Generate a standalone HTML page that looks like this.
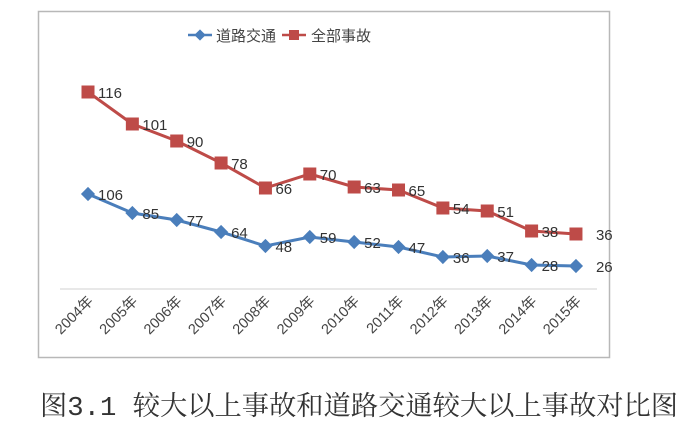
<!DOCTYPE html>
<html><head><meta charset="utf-8"><style>
body{margin:0;background:#fff;width:685px;height:435px;overflow:hidden}
svg text{font-family:"Liberation Sans","Noto Sans CJK SC",sans-serif}
</style></head><body>
<svg width="685" height="435" xmlns="http://www.w3.org/2000/svg">
<rect x="38.5" y="11.5" width="571" height="346" fill="#fff" stroke="#b8b8b8" stroke-width="1.5"/>
<line x1="60" y1="289" x2="597" y2="289" stroke="#d0d0d0" stroke-width="1"/>
<line x1="188" y1="35" x2="212" y2="35" stroke="#4a7ebb" stroke-width="2.5"/>
<rect x="196" y="31" width="8" height="8" fill="#4a7ebb" transform="rotate(45 200 35)"/>
<text x="216" y="41" font-size="15" fill="#444">道路交通</text>
<line x1="282" y1="35" x2="306" y2="35" stroke="#be4b48" stroke-width="2.5"/>
<rect x="289" y="30" width="10" height="10" fill="#be4b48"/>
<text x="311" y="41" font-size="15" fill="#444">全部事故</text>
<g id="c"></g>
<text x="40" y="415" font-size="27" fill="#333" textLength="638" lengthAdjust="spacingAndGlyphs" style='font-family:"Liberation Mono","Noto Serif CJK SC",serif'>图3.1 较大以上事故和道路交通较大以上事故对比图</text>
</svg>
<script>
var xs=[],i;for(i=0;i<12;i++)xs.push(88+i*44.36);
var R=[116,101,90,78,66,70,63,65,54,51,38,36],Ry=[92,124,141,163,188,174,187,190,208,211,231,234];
var B=[106,85,77,64,48,59,52,47,36,37,28,26],By=[194,213,220,232,246,237,242,247,257,256,265,266];
var s='';
function pl(ys,c){return '<polyline fill="none" stroke="'+c+'" stroke-width="3" points="'+xs.map(function(x,i){return x+','+ys[i]}).join(' ')+'"/>';}
s+=pl(By,'#4a7ebb')+pl(Ry,'#be4b48');
for(i=0;i<12;i++){
s+='<rect x="'+(xs[i]-5)+'" y="'+(By[i]-5)+'" width="10" height="10" fill="#4a7ebb" transform="rotate(45 '+xs[i]+' '+By[i]+')"/>';
s+='<rect x="'+(xs[i]-6.5)+'" y="'+(Ry[i]-6.5)+'" width="13" height="13" fill="#be4b48"/>';
var dx=i==11?20:10;
s+='<text x="'+(xs[i]+dx)+'" y="'+(Ry[i]+6)+'" font-size="15" fill="#333">'+R[i]+'</text>';
s+='<text x="'+(xs[i]+dx)+'" y="'+(By[i]+6)+'" font-size="15" fill="#333">'+B[i]+'</text>';
s+='<text transform="translate('+(xs[i]+6)+',302) rotate(-45)" text-anchor="end" font-size="14.5" fill="#444">'+(2004+i)+'年</text>';
}
document.getElementById('c').innerHTML=s;
</script>
</body></html>
